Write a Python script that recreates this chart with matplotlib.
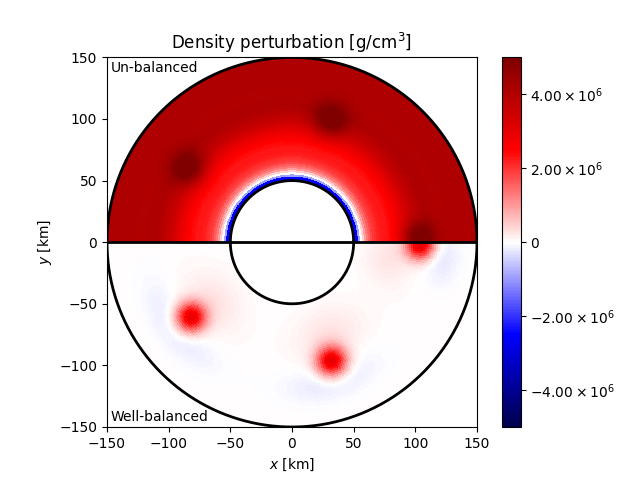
import numpy as np
import matplotlib
matplotlib.use('Agg')
import matplotlib.pyplot as plt

# radial profile of the un-balanced half
prof_r = [50, 52.5, 54, 55.5, 57, 60, 65, 72, 78, 85, 91, 99, 110, 120, 150]
prof_rho = [-2.5, -2.5, -1.0, -0.1, 0.3, 1.2, 1.9, 2.25, 2.3, 2.6, 3.0, 3.6, 4.1, 4.05, 4.1]

# blobs on the upper half (km, km, 1e6 g/cm3, km)
top_x = [-84, 31, 102]
top_y = [60, 99, 4]
top_amp = [1.6, 1.6, 1.6]
top_w = [10, 10, 9]

# cores on the lower half
bot_x = [-82.5, 32, 104]
bot_y = [-61, -97, -2.5]
bot_amp = [3.0, 3.0, 3.0]
bot_w = [8.5, 8.5, 8]

# pink and blue lobes on the lower half (km, deg, 1e6 g/cm3, km, deg)
lobe_r = [80, 80, 80, 118, 118, 122]
lobe_th = [-143, -68, -9, -143, -74, -6]
lobe_amp = [0.25, 0.25, 0.25, -0.27, -0.27, -0.27]
lobe_wr = [14, 14, 13, 10, 10, 10]
lobe_wth = [13, 14, 11, 14, 13, 7]

ticks = [-4, -2, 0, 2, 4]
tick_labels = [r'$-4.00\times10^{6}$', r'$-2.00\times10^{6}$', '$0$',
               r'$2.00\times10^{6}$', r'$4.00\times10^{6}$']


def blobs(x, y, bx, by, amp, w):
    out = np.zeros_like(x)
    for i in range(len(bx)):
        out += amp[i] * np.exp(-((x - bx[i])**2 + (y - by[i])**2) / (2 * w[i]**2))
    return out


def lobes(rr, deg):
    out = np.zeros_like(rr)
    for i in range(len(lobe_r)):
        out += lobe_amp[i] * np.exp(-(rr - lobe_r[i])**2 / (2 * lobe_wr[i]**2)
                                    - (deg - lobe_th[i])**2 / (2 * lobe_wth[i]**2))
    return out


# cell edges and centres of the polar grid
r_edge = np.linspace(50, 150, 61)
th_edge = np.linspace(0, np.pi, 181)
r_mid = 0.5 * (r_edge[1:] + r_edge[:-1])
th_mid = 0.5 * (th_edge[1:] + th_edge[:-1])
R, T = np.meshgrid(r_mid, th_mid)
XM = R * np.cos(T)
YM = R * np.sin(T)
RE, TE = np.meshgrid(r_edge, th_edge)
XE = RE * np.cos(TE)
YE = RE * np.sin(TE)

top = np.interp(R, prof_r, prof_rho) + blobs(XM, YM, top_x, top_y, top_amp, top_w)
bot = 0.02 + blobs(XM, -YM, bot_x, bot_y, bot_amp, bot_w) + lobes(R, -np.degrees(T))

fig = plt.figure(figsize=(6.4, 4.8), dpi=100)
ax = fig.add_axes([107 / 640, 53 / 480, 370 / 640, 369.6 / 480])
cax = fig.add_axes([502 / 640, 53 / 480, 18.5 / 640, 369.6 / 480])

pc = ax.pcolormesh(XE, YE, top * 1e6, cmap='seismic', vmin=-5e6, vmax=5e6, shading='flat', rasterized=True)
ax.pcolormesh(XE, -YE, bot * 1e6, cmap='seismic', vmin=-5e6, vmax=5e6, shading='flat', rasterized=True)

# boundaries
t = np.linspace(0, 2 * np.pi, 500)
ax.plot(50 * np.cos(t), 50 * np.sin(t), 'k', lw=2)
ax.plot(150 * np.cos(t), 150 * np.sin(t), 'k', lw=2)
ax.plot([-150, 150], [0, 0], 'k', lw=2)

ax.set_xlim(-150, 150)
ax.set_ylim(-150, 150)
ax.set_xticks([-150, -100, -50, 0, 50, 100, 150])
ax.set_yticks([-150, -100, -50, 0, 50, 100, 150])
ax.set_xlabel('$x$ [km]')
ax.set_ylabel('$y$ [km]')
ax.set_title('Density perturbation [g/cm$^3$]', x=0.4975)
ax.text(-147, 141, 'Un-balanced', va='center')
ax.text(-147, -142, 'Well-balanced', va='center')

cb = fig.colorbar(pc, cax=cax)
cb.set_ticks([v * 1e6 for v in ticks])
cb.set_ticklabels(tick_labels)

fig.savefig('out.png', dpi=100)
